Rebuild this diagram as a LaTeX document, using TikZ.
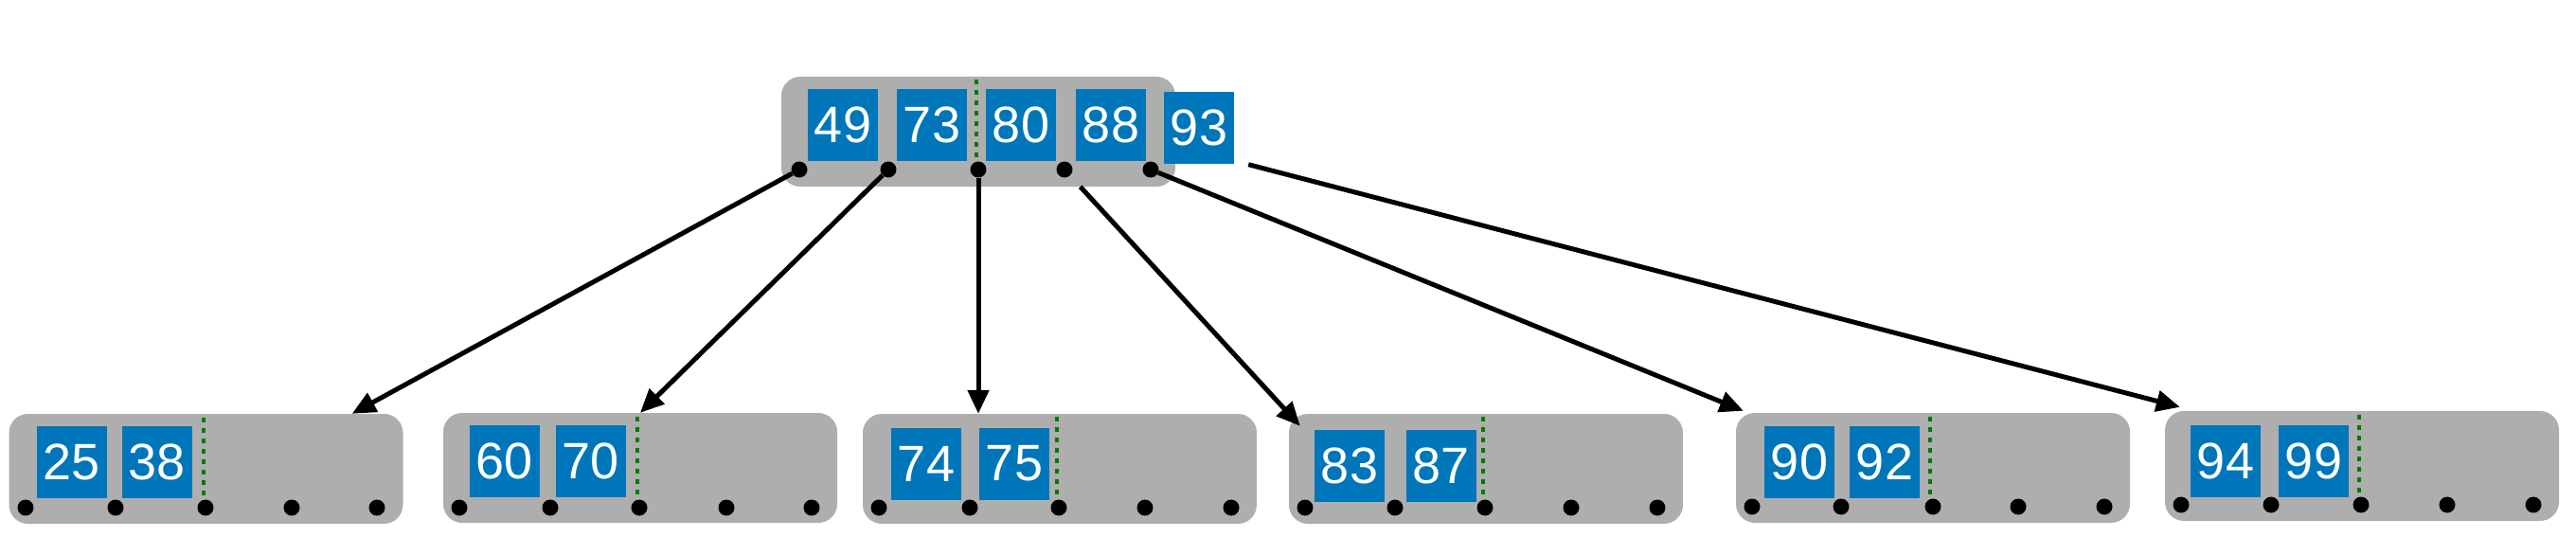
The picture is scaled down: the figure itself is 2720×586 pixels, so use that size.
\documentclass[tikz,border=0pt]{standalone}
\usepackage{fontspec}
\setmainfont{Liberation Sans}
\usetikzlibrary{arrows.meta}
\definecolor{boxgray}{RGB}{174,174,174}
\definecolor{keyblue}{RGB}{0,118,186}
\definecolor{dotgreen}{RGB}{0,122,0}
\begin{document}
\begin{tikzpicture}[x=1pt,y=-1pt,
    nodebox/.style={fill=boxgray, rounded corners=20pt, minimum width=416pt, minimum height=116pt, inner sep=0pt},
    keybox/.style={fill=keyblue, text=white, minimum width=74pt, minimum height=76pt, inner sep=0pt, font=\fontsize{54}{54}\selectfont},
    ptr/.style={circle, fill, inner sep=0pt, minimum size=17pt},
    divider/.style={draw=dotgreen, line width=4pt, dash pattern=on 5pt off 6pt},
    link/.style={line width=5pt, -{Triangle[length=25pt,width=22pt]}}]

      \useasboundingbox (0,0) rectangle (2720,586);

      % Racine : 49 73 | 80 88 + 93
      \node[nodebox] (N0) at (1033,139) {};
      \node[keybox] (N0K1) at (890,131.5) {49};
      \node[keybox] (N0K2) at (984,131.5) {73};
      \node[keybox] (N0K3) at (1078,131.5) {80};
      \node[keybox] (N0K4) at (1173,131.5) {88};
      \node[keybox] (N0K5) at (1266,134.5) {93};
      \draw[divider] (1031,84) -- (1031,168);
      \node[ptr] (N0P1) at (844,179) {};
      \node[ptr] (N0P2) at (938,179) {};
      \node[ptr] (N0P3) at (1033,179) {};
      \node[ptr] (N0P4) at (1124,179) {};
      \node[ptr] (N0P5) at (1215,179) {};

      % Feuille 1 : 25 38
      \node[nodebox] (N1) at (217.5,495) {};
      \node[keybox] (N1K1) at (76,488) {25};
      \node[keybox] (N1K2) at (166,488) {38};
      \draw[divider] (215,441) -- (215,524);
      \node[ptr] (N1P1) at (27,536) {};
      \node[ptr] (N1P2) at (122,536) {};
      \node[ptr] (N1P3) at (217,536) {};
      \node[ptr] (N1P4) at (308,536) {};
      \node[ptr] (N1P5) at (398,536) {};

      % Feuille 2 : 60 70
      \node[nodebox] (N2) at (676,494) {};
      \node[keybox] (N2K1) at (533,487) {60};
      \node[keybox] (N2K2) at (624,487) {70};
      \draw[divider] (673,440) -- (673,524);
      \node[ptr] (N2P1) at (485,536) {};
      \node[ptr] (N2P2) at (581,536) {};
      \node[ptr] (N2P3) at (675,536) {};
      \node[ptr] (N2P4) at (767,536) {};
      \node[ptr] (N2P5) at (857,536) {};

      % Feuille 3 : 74 75
      \node[nodebox] (N3) at (1119,495) {};
      \node[keybox] (N3K1) at (978,489.5) {74};
      \node[keybox] (N3K2) at (1071,489.5) {75};
      \draw[divider] (1116,440) -- (1116,525);
      \node[ptr] (N3P1) at (928,536) {};
      \node[ptr] (N3P2) at (1024,536) {};
      \node[ptr] (N3P3) at (1118,536) {};
      \node[ptr] (N3P4) at (1209,536) {};
      \node[ptr] (N3P5) at (1300,536) {};

      % Feuille 4 : 83 87
      \node[nodebox] (N4) at (1569,495) {};
      \node[keybox] (N4K1) at (1425,492) {83};
      \node[keybox] (N4K2) at (1521.5,492) {87};
      \draw[divider] (1566,440) -- (1566,525);
      \node[ptr] (N4P1) at (1378,536) {};
      \node[ptr] (N4P2) at (1473,536) {};
      \node[ptr] (N4P3) at (1568,536) {};
      \node[ptr] (N4P4) at (1659,536) {};
      \node[ptr] (N4P5) at (1750,536) {};

      % Feuille 5 : 90 92
      \node[nodebox] (N5) at (2041,494) {};
      \node[keybox] (N5K1) at (1900,487.5) {90};
      \node[keybox] (N5K2) at (1990,487.5) {92};
      \draw[divider] (2038,440) -- (2038,524);
      \node[ptr] (N5P1) at (1850,535) {};
      \node[ptr] (N5P2) at (1944,535) {};
      \node[ptr] (N5P3) at (2041,535) {};
      \node[ptr] (N5P4) at (2131,535) {};
      \node[ptr] (N5P5) at (2222,535) {};

      % Feuille 6 : 94 99
      \node[nodebox] (N6) at (2494,492) {};
      \node[keybox] (N6K1) at (2350,487) {94};
      \node[keybox] (N6K2) at (2443,487) {99};
      \draw[divider] (2491,438) -- (2491,521);
      \node[ptr] (N6P1) at (2303,533) {};
      \node[ptr] (N6P2) at (2398,533) {};
      \node[ptr] (N6P3) at (2493,533) {};
      \node[ptr] (N6P4) at (2584,533) {};
      \node[ptr] (N6P5) at (2675,533) {};

      % Pointeurs de la racine vers les feuilles
      \coordinate (N0Q) at ([shift={(15,1)}]N0K5.south east);
      \draw[link] (N0P1) -- ([shift={(-54,0)}]N1.north east); % < 49
      \draw[link] (N0P2) -- (N2.north); % 49 -- 73
      \draw[link] (N0P3) -- (N0P3 |- N3.north); % 73 -- 80
      \draw[link, shorten <=16pt] (N0P4) -- ([shift={(12,13)}]N4.north west); % 80 -- 88
      \draw[link] (N0P5) -- ([shift={(8,-2)}]N5.north west); % 88 -- 93
      \draw[link] (N0Q) -- ([shift={(16,-4)}]N6.north west); % > 93
    \end{tikzpicture}
\end{document}
